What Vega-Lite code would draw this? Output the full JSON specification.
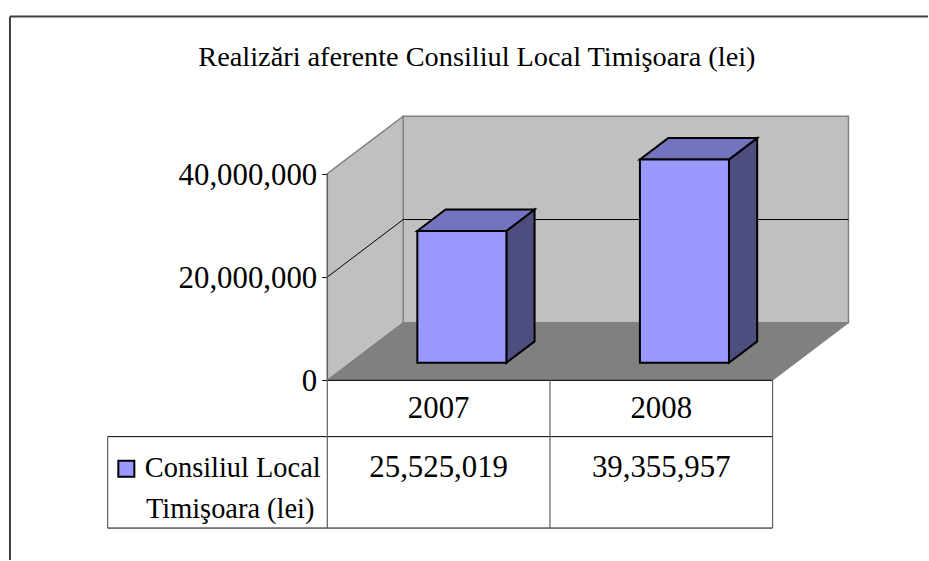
{
"$schema":"https://vega.github.io/schema/vega-lite/v6.json",
"width":929,"height":561,"padding":0,
"autosize":{"type":"fit","contains":"padding"},
"background":"white",
"config":{"view":{"stroke":null},"text":{"font":"Liberation Serif","color":"black"}},
"datasets":{
"bars":[
{"year":"2007","value":25525019,"slot":0,"z":0.3056},
{"year":"2007","value":25525019,"slot":0,"z":0.6772},
{"year":"2008","value":39355957,"slot":1,"z":0.3056},
{"year":"2008","value":39355957,"slot":1,"z":0.6772}],
"depth":[{"z":0},{"z":1}],
"grid":[{"c":0,"z":0,"v":20000000},{"c":0,"z":1,"v":20000000},{"c":2,"z":1,"v":20000000}],
"hlines":[
{"c":0,"c2":2,"v":0},
{"c":-0.987,"c2":2,"v":-10900000},
{"c":-0.987,"c2":2,"v":-28600000}],
"vlines":[
{"c":-0.987,"v":-10900000,"v2":-28600000},
{"c":0,"v":40000000,"v2":-28600000},
{"c":1,"v":0,"v2":-28600000},
{"c":2,"v":0,"v2":-28600000}],
"labels":[
{"label":"2007","c":0.5,"v":-5500000},
{"label":"2008","c":1.5,"v":-5500000}],
"values":[
{"value":25525019,"c":0.5,"v":-17000000},
{"value":39355957,"c":1.5,"v":-17000000}],
"legendText":[
{"label":"Consiliul Local","c":-0.82,"v":-17000000},
{"label":"Timişoara (lei)","c":-0.815,"v":-25000000}],
"swatch":[{"c":-0.903,"v":-17140000}],
"title":[{"label":"Realizări aferente Consiliul Local Timişoara (lei)","c":0.672,"v":62300000}],
"frame":[{"c":-1.4257,"v":70435000}]
},
"encoding":{
"x":{"field":"x","type":"quantitative","stack":false,"axis":null,"scale":{"domain":[-1.4705,2.6983],"nice":false,"zero":false}},
"y":{"field":"y","type":"quantitative","stack":false,"scale":{"domain":[-34783000,73623000],"nice":false,"zero":false},
"axis":{"title":null,"values":[0,20000000,40000000],"labelExpr":"format(datum.value, ',')","grid":false,"domain":false,"offset":-327.7,"tickSize":6,"tickColor":"black","tickWidth":1,"labelPadding":5,"labelOffset":1.5,"labelFont":"Liberation Serif","labelFontSize":30.8,"labelColor":"black"}}
},
"layer":[
{"data":{"name":"frame"},"transform":[{"calculate":"datum.c","as":"x"},{"calculate":"datum.v","as":"y"},{"calculate":"2.6983","as":"xe"}],
"mark":{"type":"rule","color":"#404040","strokeWidth":2},"encoding":{"x2":{"field":"xe"}}},
{"data":{"name":"frame"},"transform":[{"calculate":"datum.c","as":"x"},{"calculate":"datum.v","as":"y"},{"calculate":"-34783000","as":"ye"}],
"mark":{"type":"rule","color":"#404040","strokeWidth":2},"encoding":{"y2":{"field":"ye"}}},
{"data":{"name":"depth"},"transform":[{"filter":"datum.z==1"},{"calculate":"0.341","as":"x"},{"calculate":"2.341","as":"xe"},{"calculate":"11130000","as":"y"},{"calculate":"51130000","as":"ye"}],
"mark":{"type":"rect","fill":"#C0C0C0","stroke":"#808080","strokeWidth":1.5},"encoding":{"x2":{"field":"xe"},"y2":{"field":"ye"}}},
{"data":{"name":"depth"},"transform":[{"calculate":"0.341*datum.z","as":"x"},{"calculate":"11130000*datum.z","as":"y"},{"calculate":"40000000+11130000*datum.z","as":"ye"}],
"mark":{"type":"area","fill":"#C0C0C0","stroke":"#808080","strokeWidth":1.5,"opacity":1},"encoding":{"y2":{"field":"ye"}}},
{"data":{"name":"depth"},"transform":[{"calculate":"0.341*datum.z","as":"x"},{"calculate":"2+0.341*datum.z","as":"xe"},{"calculate":"11130000*datum.z","as":"y"}],
"mark":{"type":"area","orient":"horizontal","fill":"#808080","stroke":"#808080","strokeWidth":1,"opacity":1},"encoding":{"x2":{"field":"xe"}}},
{"data":{"name":"grid"},"transform":[{"calculate":"datum.c+0.341*datum.z","as":"x"},{"calculate":"datum.v+11130000*datum.z","as":"y"}],
"mark":{"type":"line","color":"black","strokeWidth":1}},
{"data":{"name":"bars"},"transform":[{"calculate":"datum.slot+0.7+0.341*datum.z","as":"x"},{"calculate":"11130000*datum.z","as":"y"},{"calculate":"datum.value+11130000*datum.z","as":"ye"}],
"mark":{"type":"area","fill":"#4D4D80","stroke":"black","strokeWidth":2,"opacity":1},"encoding":{"y2":{"field":"ye"},"detail":{"field":"year"}}},
{"data":{"name":"bars"},"transform":[{"calculate":"datum.slot+0.3+0.341*datum.z","as":"x"},{"calculate":"datum.slot+0.7+0.341*datum.z","as":"xe"},{"calculate":"datum.value+11130000*datum.z","as":"y"}],
"mark":{"type":"area","orient":"horizontal","fill":"#7373BF","stroke":"black","strokeWidth":2,"opacity":1},"encoding":{"x2":{"field":"xe"},"detail":{"field":"year"}}},
{"data":{"name":"bars"},"transform":[{"filter":"datum.z<0.5"},{"calculate":"datum.slot+0.3+0.341*datum.z","as":"x"},{"calculate":"datum.slot+0.7+0.341*datum.z","as":"xe"},{"calculate":"11130000*datum.z","as":"y"},{"calculate":"datum.value+11130000*datum.z","as":"ye"}],
"mark":{"type":"rect","fill":"#9999FF","stroke":"black","strokeWidth":2},"encoding":{"x2":{"field":"xe"},"y2":{"field":"ye"}}},
{"data":{"name":"hlines"},"transform":[{"calculate":"datum.c","as":"x"},{"calculate":"datum.c2","as":"xe"},{"calculate":"datum.v","as":"y"}],
"mark":{"type":"rule","color":"black","strokeWidth":1},"encoding":{"x2":{"field":"xe"}}},
{"data":{"name":"vlines"},"transform":[{"calculate":"datum.c","as":"x"},{"calculate":"datum.v","as":"y"},{"calculate":"datum.v2","as":"ye"}],
"mark":{"type":"rule","color":"#606060","strokeWidth":1.2},"encoding":{"y2":{"field":"ye"}}},
{"data":{"name":"labels"},"transform":[{"calculate":"datum.c","as":"x"},{"calculate":"datum.v","as":"y"}],
"mark":{"type":"text","fontSize":30.8,"align":"center","baseline":"middle"},"encoding":{"text":{"field":"label"}}},
{"data":{"name":"values"},"transform":[{"calculate":"datum.c","as":"x"},{"calculate":"datum.v","as":"y"}],
"mark":{"type":"text","fontSize":30.8,"align":"center","baseline":"middle"},"encoding":{"text":{"field":"value","type":"quantitative","format":","}}},
{"data":{"name":"legendText"},"transform":[{"calculate":"datum.c","as":"x"},{"calculate":"datum.v","as":"y"}],
"mark":{"type":"text","fontSize":28.4,"align":"left","baseline":"middle"},"encoding":{"text":{"field":"label"}}},
{"data":{"name":"swatch"},"transform":[{"calculate":"datum.c","as":"x"},{"calculate":"datum.v","as":"y"}],
"mark":{"type":"square","size":256,"fill":"#9999FF","stroke":"black","strokeWidth":2,"opacity":1}},
{"data":{"name":"title"},"transform":[{"calculate":"datum.c","as":"x"},{"calculate":"datum.v","as":"y"}],
"mark":{"type":"text","fontSize":28.3,"align":"center","baseline":"middle"},"encoding":{"text":{"field":"label"}}}
]
}
